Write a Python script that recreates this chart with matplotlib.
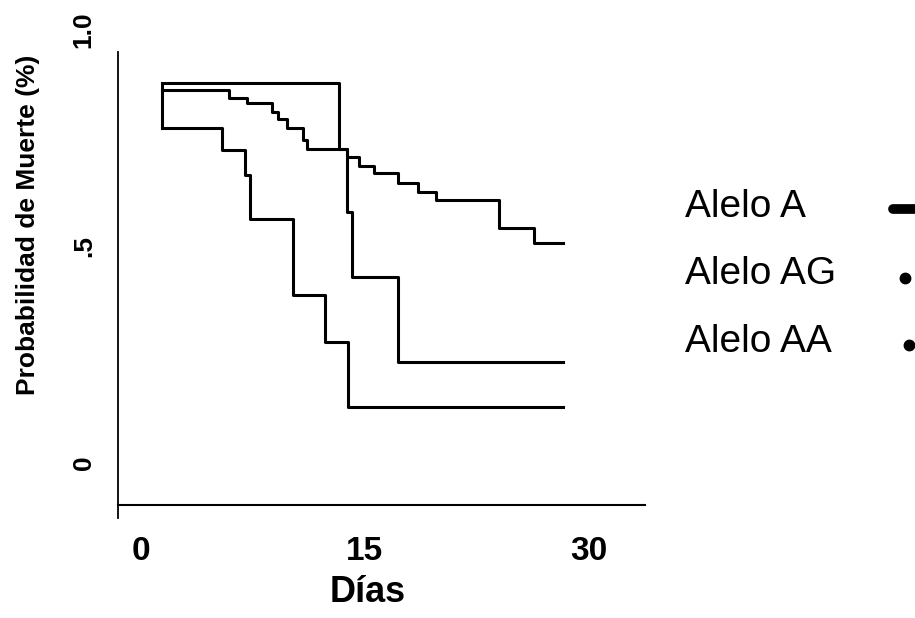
import matplotlib
matplotlib.use("Agg")
import matplotlib.pyplot as plt
from matplotlib.lines import Line2D

plt.rcParams['font.family'] = ['Liberation Sans', 'DejaVu Sans']

# curvas escalonadas (dias, probabilidad)
dias_sup = [1.39, 13.26, 13.78, 14.15, 17.23, 28.29]
prob_sup = [0.876, 0.724, 0.580, 0.430, 0.233, 0.233]

dias_med = [1.39, 5.91, 7.08, 8.79, 9.20, 9.76, 10.83, 11.10, 13.78, 14.62,
            15.61, 17.23, 18.57, 19.76, 24.0, 26.34, 28.25]
prob_med = [0.861, 0.842, 0.830, 0.811, 0.793, 0.773, 0.745, 0.724, 0.707, 0.685,
            0.669, 0.647, 0.626, 0.607, 0.543, 0.507, 0.507]

dias_inf = [1.39, 5.41, 6.97, 7.30, 10.20, 12.32, 13.84, 28.29]
prob_inf = [0.773, 0.722, 0.665, 0.562, 0.388, 0.280, 0.130, 0.130]

x_ticks = [0, 15, 30]
x_labels = ['0', '15', '30']
y_ticks = [0, 0.5, 1.0]
y_labels = ['0', '.5', '1.0']
leyenda = ['Alelo A', 'Alelo AG', 'Alelo AA']

W, H = 915, 618
fig = plt.figure(figsize=(W / 100, H / 100), dpi=100)
ax = fig.add_axes([118 / W, 0.1618, 527 / W, 0.811])

for d, p in [(dias_sup, prob_sup), (dias_med, prob_med), (dias_inf, prob_inf)]:
    ax.plot(d, p, drawstyle='steps-post', color='black', lw=2.2)
ax.vlines(dias_sup[0], prob_inf[0], prob_sup[0], color='black', lw=2.2)

ax.set_xlim(-1.54, 33.76)
ax.set_ylim(-0.1275, 1.03)

ax.spines['top'].set_visible(False)
ax.spines['right'].set_visible(False)
ax.spines['bottom'].set_position(('data', -0.0975))
ax.spines['bottom'].set_linewidth(1.5)
ax.spines['left'].set_linewidth(1.3)
ax.spines['left'].set_bounds(-0.1275, 0.949)

ax.set_xticks(x_ticks)
ax.set_xticklabels(x_labels, fontsize=24, fontweight='bold')
ax.set_yticks(y_ticks)
ax.set_yticklabels(y_labels, fontsize=19, fontweight='bold', rotation=90, va='center')
ax.tick_params(axis='x', length=0, pad=22)
ax.tick_params(axis='y', length=0, pad=16)

ax.set_xlabel('Días', fontsize=26, fontweight='bold')
ax.xaxis.set_label_coords(368 / W, 1 - 592 / H, transform=fig.transFigure)
ax.xaxis.label.set_va('center')
ax.set_ylabel('Probabilidad de Muerte (%)', fontsize=19, fontweight='bold', va='center')
ax.yaxis.set_label_coords(28 / W, 1 - 225 / H, transform=fig.transFigure)

# leyenda a mano: texto a la izquierda, simbolo a la derecha
filas_y = [207, 274, 342]
for lab, yy in zip(leyenda, filas_y):
    fig.text(685 / W, 1 - yy / H, lab, fontsize=28, ha='left', va='center')

fig.add_artist(Line2D([893 / W, 925 / W], [1 - 209 / H, 1 - 209 / H],
                      color='black', lw=7, solid_capstyle='round'))
fig.add_artist(Line2D([905 / W], [1 - 278 / H], color='black', ls='none',
                      marker='o', markersize=7.5))
fig.add_artist(Line2D([909 / W], [1 - 345 / H], color='black', ls='none',
                      marker='o', markersize=7.5))

fig.savefig('out.png', dpi=100)
